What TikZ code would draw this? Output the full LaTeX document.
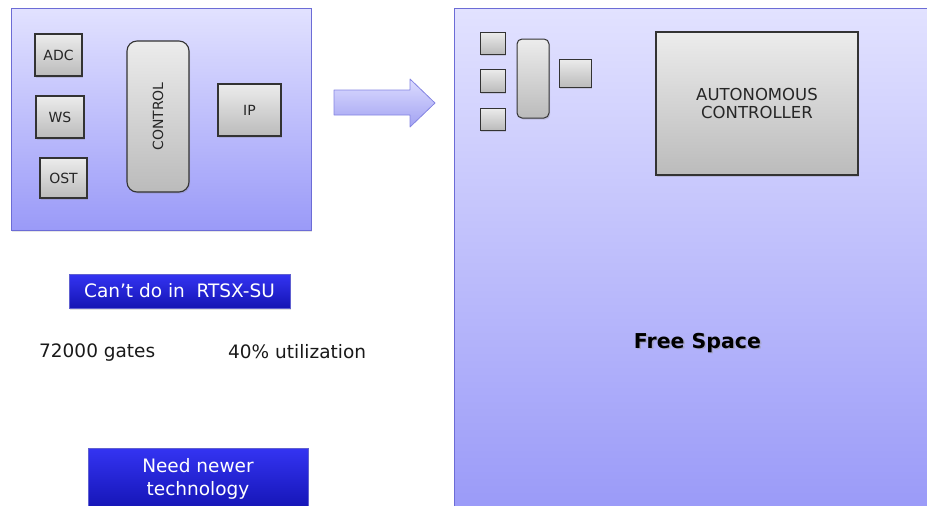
\documentclass[tikz,border=0pt]{standalone}
\usepackage{fontspec}
\setmainfont{DejaVu Sans}
\usetikzlibrary{shadows}

\definecolor{panelTop}{HTML}{E2E2FF}
\definecolor{panelBot}{HTML}{9A9AF8}
\definecolor{panelEdge}{HTML}{6C6CD6}
\definecolor{boxTop}{HTML}{ECECEC}
\definecolor{boxBot}{HTML}{BBBBBB}
\definecolor{boxEdge}{HTML}{333333}
\definecolor{btnTop}{HTML}{3434F2}
\definecolor{btnBot}{HTML}{1414B4}
\definecolor{btnEdge}{HTML}{6060D0}
\definecolor{arrowTop}{HTML}{DCDCFF}
\definecolor{arrowBot}{HTML}{A2A2F2}
\definecolor{arrowEdge}{HTML}{8484E2}

\tikzset{
  panel/.style={draw=panelEdge, line width=1pt, top color=panelTop,
    bottom color=panelBot, inner sep=0pt},
  graybox/.style={draw=boxEdge, line width=1.1pt, top color=boxTop,
    bottom color=boxBot, inner sep=0pt,
    drop shadow={opacity=0.25, shadow xshift=1.2pt, shadow yshift=-1.5pt},
    font=\fontsize{14}{16}\selectfont, text=black!85},
  bluebtn/.style={draw=btnEdge, line width=0.8pt, top color=btnTop,
    bottom color=btnBot, inner sep=0pt, align=center,
    drop shadow={opacity=0.25, shadow xshift=1pt, shadow yshift=-1.5pt},
    font=\fontsize{18.5}{23}\selectfont, text=white},
  plaintext/.style={inner sep=0pt, font=\fontsize{18.5}{22}\selectfont, text=black!90},
}

\begin{document}
\begin{tikzpicture}[x=1pt, y=-1pt]
  \useasboundingbox (0,0) rectangle (927,506);
  \clip (0,0) rectangle (927,506);

  % ---- left panel: the current design ----
  \node[panel, minimum width=300, minimum height=222,
        drop shadow={opacity=0.2, shadow xshift=1pt, shadow yshift=-1.5pt}]
        (oldchip) at (161,119) {};
  \node[graybox, minimum width=47, minimum height=42] (adc) at (58.5,55) {ADC};
  \node[graybox, minimum width=48, minimum height=42] (ws)  at (60,117) {WS};
  \node[graybox, minimum width=47, minimum height=40] (ost) at (63.5,178) {OST};
  \node[graybox, rounded corners=10pt, minimum width=62, minimum height=151]
        (ctrl) at (158,116.5) {};
  \node[rotate=90, font=\fontsize{14}{16}\selectfont, text=black!85]
        (ctrltext) at (ctrl.center) {CONTROL};
  \node[graybox, minimum width=63, minimum height=52] (ip) at (249.5,110) {IP};

  % ---- migration arrow ----
  \path[draw=arrowEdge, line width=0.8pt, top color=arrowTop, bottom color=arrowBot,
        line join=round]
    (334,90) -- (410,90) -- (410,79) -- (435,103) -- (410,127)
    -- (410,115) -- (334,115) -- cycle;

  % ---- right panel: the new device ----
  \path[panel] (454,8) rectangle (960,510);
  \coordinate (newchip) at (454,8);

  \node[graybox, line width=1pt, minimum width=25, minimum height=22] (m1) at (492.5,43) {};
  \node[graybox, line width=1pt, minimum width=25, minimum height=23] (m2) at (492.5,80.5) {};
  \node[graybox, line width=1pt, minimum width=25, minimum height=22] (m3) at (492.5,119) {};
  \node[graybox, line width=1pt, rounded corners=5pt, minimum width=32, minimum height=79]
        (mctrl) at (533,78.5) {};
  \node[graybox, line width=1pt, minimum width=32, minimum height=28] (mip) at (575,73) {};

  \node[graybox, minimum width=202, minimum height=143, align=center,
        font=\fontsize{16.5}{18.5}\selectfont]
        (auto) at (757,103.5) {AUTONOMOUS\\CONTROLLER};

  \node[inner sep=0pt, anchor=base, font=\fontsize{20.5}{24}\selectfont\bfseries,
        text=black!40, opacity=0.5] (freeshadow) at (699,349.5) {Free Space};
  \node[inner sep=0pt, anchor=base, font=\fontsize{20.5}{24}\selectfont\bfseries,
        text=black] (free) at (697.5,348) {Free Space};

  % ---- notes below the current design ----
  \node[bluebtn, minimum width=221, minimum height=34] (cant) at (179.5,291)
        {Can’t do in\ \ RTSX-SU};
  \node[plaintext, anchor=base west] (gates) at (39,357) {72000 gates};
  \node[plaintext, anchor=base west] (util) at (228,358) {40\% utilization};
  \node[bluebtn, minimum width=220, minimum height=62] (newer) at (198,479)
        {Need newer\\technology};
\end{tikzpicture}
\end{document}
